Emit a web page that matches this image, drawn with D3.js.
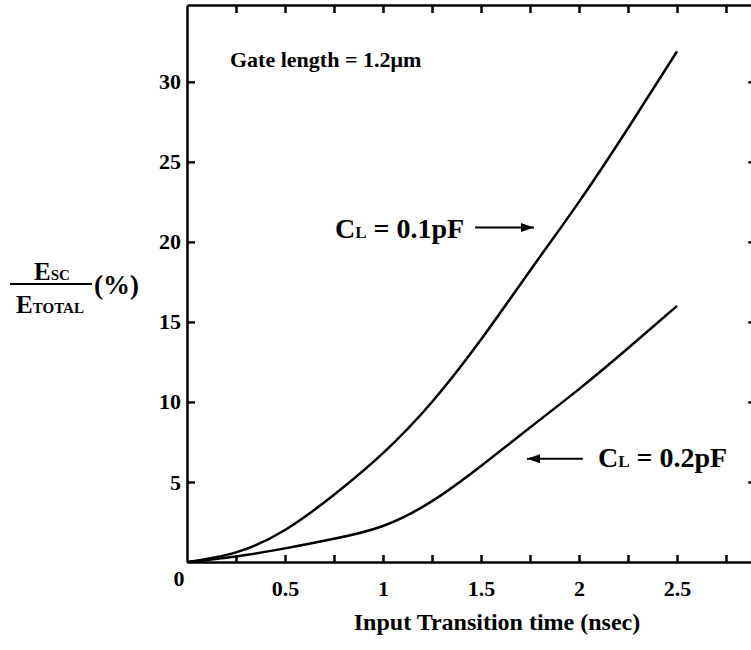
<!DOCTYPE html>
<html>
<head>
<meta charset="UTF-8">
<title>Short-circuit energy vs input transition time</title>
<script src="https://d3js.org/d3.v7.min.js"></script>
<style>
  body { margin: 0; background: #fff; }
  svg text { font-family: "Liberation Serif", "Times New Roman", serif; font-weight: bold; fill: #000; }
</style>
</head>
<body>
<svg id="chart" width="751" height="650"></svg>
<script>
// data
var times = [0, 0.25, 0.5, 0.75, 1, 1.25, 1.5, 1.75, 2, 2.25, 2.5];
var load01 = [0, 0.6, 2.0, 4.2, 6.8, 10.0, 13.9, 18.2, 22.5, 27.1, 31.9];
var load02 = [0, 0.35, 0.85, 1.45, 2.25, 3.8, 6.0, 8.4, 10.8, 13.35, 16.0];
var xTicks = [0.25, 0.5, 0.75, 1, 1.25, 1.5, 1.75, 2, 2.25, 2.5, 2.75];
var xTickLabels = [0.5, 1, 1.5, 2, 2.5];
var yTicks = [5, 10, 15, 20, 25, 30];

var svg = d3.select("#chart");

var x = d3.scaleLinear().domain([0, 2.9]).range([187, 187 + 196 * 2.9]);
var y = d3.scaleLinear().domain([0, 34.8]).range([562, 5]);

var ink = 2.5;

function styleAxis(g) {
  g.selectAll("path, line").attr("stroke", "#000").attr("stroke-width", ink);
  g.selectAll("text").style("font-size", "22px").style("font-family", null).attr("fill", "#000");
}

// bottom axis, ticks pointing in
svg.append("g")
  .attr("transform", "translate(0," + y(0) + ")")
  .call(d3.axisBottom(x).tickValues(xTicks).tickSizeInner(-7).tickSizeOuter(0).tickPadding(18)
    .tickFormat(function(d) { return xTickLabels.indexOf(d) >= 0 ? d : ""; }))
  .call(styleAxis);

// top frame
svg.append("g")
  .attr("transform", "translate(0," + y(34.8) + ")")
  .call(d3.axisTop(x).tickValues(xTicks).tickSizeInner(-8).tickSizeOuter(0).tickFormat(""))
  .call(styleAxis);

// left axis
svg.append("g")
  .attr("transform", "translate(" + x(0) + ",0)")
  .call(d3.axisLeft(y).tickValues(yTicks).tickSizeInner(-8).tickSizeOuter(0).tickPadding(6))
  .call(styleAxis);

// right frame, mostly cut off
svg.append("g")
  .attr("transform", "translate(" + x(2.9) + ",0)")
  .call(d3.axisRight(y).tickValues(yTicks).tickSizeInner(-7).tickSizeOuter(0).tickFormat(""))
  .call(styleAxis);

// shared origin label
svg.append("text")
  .attr("x", x(0) - 8)
  .attr("y", y(0) + 24)
  .attr("text-anchor", "middle")
  .style("font-size", "22px")
  .text("0");

var line = d3.line()
  .x(function(d, i) { return x(times[i]); })
  .y(function(d) { return y(d); })
  .curve(d3.curveNatural);

[load01, load02].forEach(function(series) {
  svg.append("path")
    .datum(series)
    .attr("d", line)
    .attr("fill", "none")
    .attr("stroke", "#000")
    .attr("stroke-width", ink);
});

// arrowheads
svg.append("defs").append("marker")
  .attr("id", "head")
  .attr("viewBox", "0 0 13 9")
  .attr("refX", 13).attr("refY", 4.5)
  .attr("markerWidth", 13).attr("markerHeight", 9)
  .attr("markerUnits", "userSpaceOnUse")
  .attr("orient", "auto")
  .append("path").attr("d", "M0,0 L13,4.5 L0,9 Z").attr("fill", "#000");

function arrow(x1, x2, v) {
  svg.append("line")
    .attr("x1", x(x1)).attr("x2", x(x2))
    .attr("y1", y(v)).attr("y2", y(v))
    .attr("stroke", "#000").attr("stroke-width", 2)
    .attr("marker-end", "url(#head)");
}
arrow(1.47, 1.77, 20.9);
arrow(2.02, 1.735, 6.45);

function loadLabel(px, py, value) {
  var t = svg.append("text").attr("x", px).attr("y", py).style("font-size", "28px");
  t.append("tspan").text("C");
  t.append("tspan").style("font-size", "17px").text("L");
  t.append("tspan").text(" = " + value);
}
loadLabel(335, 238, "0.1pF");
loadLabel(598, 467, "0.2pF");

svg.append("text")
  .attr("x", 230).attr("y", 67)
  .style("font-size", "22px")
  .text("Gate length = 1.2\u03bcm");

// axis titles
svg.append("text")
  .attr("x", 497).attr("y", 630)
  .attr("text-anchor", "middle")
  .style("font-size", "24px")
  .text("Input Transition time (nsec)");

var num = svg.append("text").attr("x", 52).attr("y", 280).attr("text-anchor", "middle").style("font-size", "25px");
num.append("tspan").text("E");
num.append("tspan").style("font-size", "15px").text("SC");

var den = svg.append("text").attr("x", 50).attr("y", 313).attr("text-anchor", "middle").style("font-size", "25px");
den.append("tspan").text("E");
den.append("tspan").style("font-size", "15px").text("TOTAL");

svg.append("line")
  .attr("x1", 10).attr("x2", 92)
  .attr("y1", 284).attr("y2", 284)
  .attr("stroke", "#000").attr("stroke-width", 2);

svg.append("text")
  .attr("x", 94).attr("y", 294)
  .style("font-size", "27px")
  .text("(%)");
</script>
</body>
</html>
